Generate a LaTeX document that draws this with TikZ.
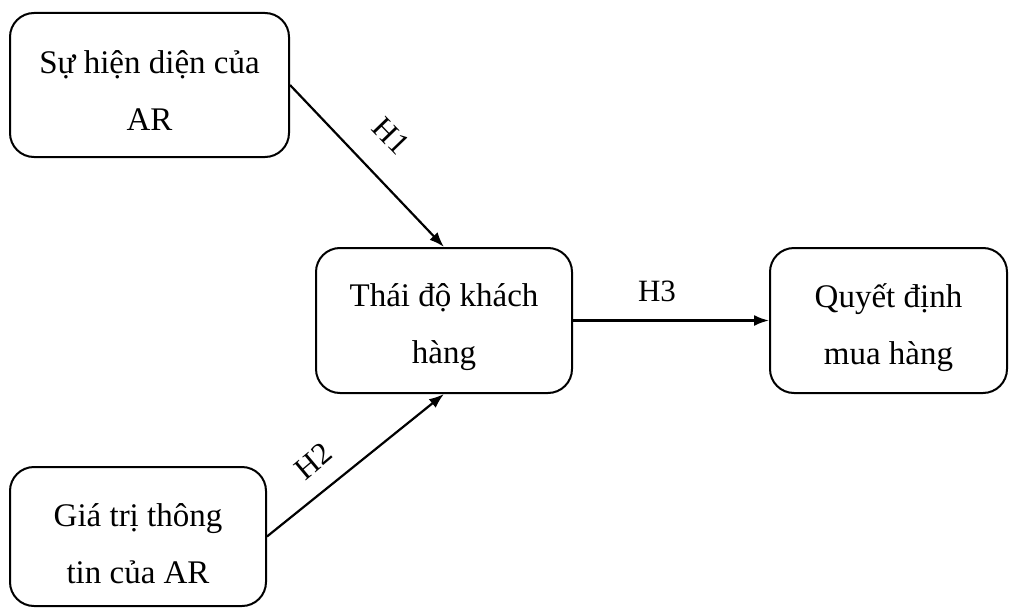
\documentclass[tikz,border=0pt]{standalone}
\usepackage{fontspec}
\setmainfont{Liberation Serif}
\usetikzlibrary{arrows.meta}
\begin{document}
\begin{tikzpicture}[x=1pt,y=-1pt,
  box/.style={draw,line width=2pt,rounded corners=24pt,inner sep=0pt},
  txt/.style={align=center,font=\fontsize{33}{57}\selectfont,inner sep=0pt},
  link/.style={line width=2.2pt,-{Latex[length=15pt,width=11pt]}},
  hyp/.style={font=\fontsize{31}{36}\selectfont,inner sep=0pt}]
  \useasboundingbox (0,0) rectangle (1017,610);
  % constructs of the model
  \node[box,minimum width=279pt,minimum height=144pt] (pres) at (149.5,85) {};
  \node[box,minimum width=256pt,minimum height=145pt] (att) at (444,320.5) {};
  \node[box,minimum width=237pt,minimum height=145pt] (dec) at (888.5,320.5) {};
  \node[box,minimum width=256pt,minimum height=139pt] (info) at (138,536.5) {};
  \node[txt] (pres-t) at ([yshift=-6pt]pres.center) {Sự hiện diện của\\AR};
  \node[txt] (att-t) at ([yshift=-7pt]att.center) {Thái độ khách\\hàng};
  \node[txt] (dec-t) at ([yshift=-7pt]dec.center) {Quyết định\\mua hàng};
  \node[txt] (info-t) at ([yshift=-7pt]info.center) {Giá trị thông\\tin của AR};
  % hypothesised paths
  \draw[link] (pres.east) -- (att.north);
  \draw[link] (info.east) -- (att.south);
  \draw[link] (att.east) -- (dec.west);
  \node[hyp,rotate=-46] (h1) at (391,136) {H1};
  \node[hyp,rotate=40] (h2) at (313,461) {H2};
  \node[hyp] (h3) at (657,291) {H3};
\end{tikzpicture}
\end{document}
